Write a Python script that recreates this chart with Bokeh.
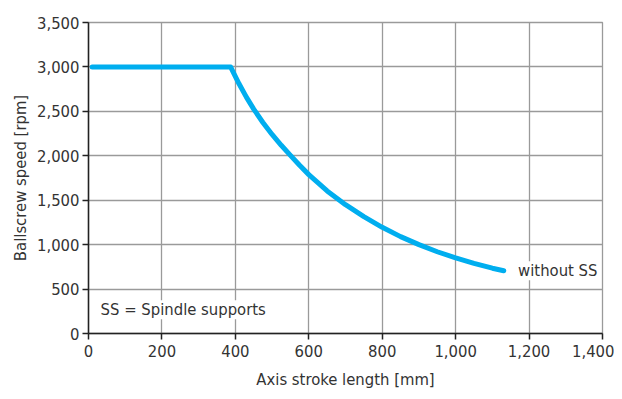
from bokeh.plotting import figure
from bokeh.models import Label, NumeralTickFormatter, FixedTicker, Range1d
from bokeh.embed import file_html
from bokeh.resources import INLINE

stroke_mm = [10, 387, 410, 430, 450, 475, 500, 525, 550, 575, 600, 650, 700, 750, 800,
             850, 900, 950, 1000, 1050, 1100, 1131]
speed_rpm = [3000, 3000, 2810, 2660, 2525, 2375, 2240, 2118, 2005, 1893, 1788, 1605, 1450, 1315, 1195,
             1090, 1000, 920, 850, 790, 735, 706]
x_ticks = [0, 200, 400, 600, 800, 1000, 1200, 1400]
y_ticks = [0, 500, 1000, 1500, 2000, 2500, 3000, 3500]

FONT = "'Liberation Sans Narrow', 'DejaVu Sans Condensed', 'Roboto', sans-serif"
GRID = "#9a9a9a"
TXT = "#333333"

p = figure(width=614, height=391, output_backend="svg", toolbar_location=None,
           x_range=Range1d(0, 1400), y_range=Range1d(0, 3500),
           min_border_left=88, min_border_right=12, min_border_top=22, min_border_bottom=56)

p.line(stroke_mm, speed_rpm, line_color="#00aeef", line_width=5, line_cap="round", line_join="round")

for ax, ticks in ((p.xaxis, x_ticks), (p.yaxis, y_ticks)):
    ax.ticker = FixedTicker(ticks=ticks)
    ax.formatter = NumeralTickFormatter(format="0,0")
    ax.major_label_text_font = FONT
    ax.major_label_text_font_size = "16.5px"
    ax.major_label_text_color = TXT
    ax.axis_label_text_font = FONT
    ax.axis_label_text_font_size = "16.5px"
    ax.axis_label_text_font_style = "normal"
    ax.axis_label_text_color = TXT
    ax.axis_line_color = "#222222"
    ax.axis_line_width = 1.5
    ax.major_tick_line_color = "#222222"
    ax.major_tick_line_width = 1.5
    ax.major_tick_out = 6
    ax.major_tick_in = 0
    ax.minor_tick_line_color = None

p.xaxis.axis_label = "Axis stroke length [mm]"
p.yaxis.axis_label = "Ballscrew speed [rpm]"
p.xaxis.major_label_standoff = 5
p.yaxis.major_label_standoff = 3
p.xaxis.axis_label_standoff = 10
p.yaxis.axis_label_standoff = 4

p.xgrid.grid_line_color = GRID
p.ygrid.grid_line_color = GRID
p.xgrid.grid_line_width = 1.3
p.ygrid.grid_line_width = 1.3
p.outline_line_color = GRID
p.outline_line_width = 1.3
p.background_fill_color = "white"
p.border_fill_color = "white"

p.add_layout(Label(x=33, y=266, text="SS = Spindle supports", text_font=FONT, text_font_size="16.5px",
                   text_color=TXT, text_baseline="middle",
                   background_fill_color="white"))
p.add_layout(Label(x=1170, y=705, text="without SS", text_font=FONT, text_font_size="16.5px",
                   text_color=TXT, text_baseline="middle",
                   background_fill_color="white"))

open("out.html", "w").write(file_html(p, INLINE))
